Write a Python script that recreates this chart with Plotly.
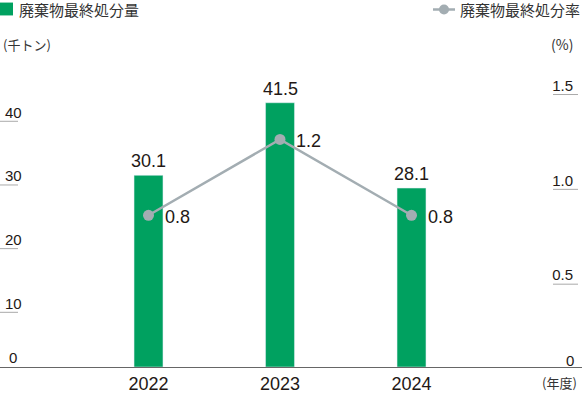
import plotly.graph_objects as go

years = [2022, 2023, 2024]
disposal = [30.1, 41.5, 28.1]       # 千トン
rate = [0.8, 1.2, 0.8]              # %
left_ticks = [10, 20, 30, 40]
right_ticks = [0.5, 1.0, 1.5]

W, H = 582, 394
T, B = 60, 24
PH = H - T - B

GREEN = "#00A160"
GREY = "#A3ADB2"
TXT = "#231815"
NUM_FONT = "Liberation Sans Narrow, Arial Narrow, Liberation Sans, sans-serif"
JP_FONT = "Noto Sans CJK JP, sans-serif"


def px(x):
    return x / W


def py(y):
    return (H - B - y) / PH


fig = go.Figure()
fig.add_trace(go.Bar(x=years, y=disposal, marker_color=GREEN, width=0.22,
                     yaxis="y", hoverinfo="skip", showlegend=False))
fig.add_trace(go.Scatter(x=years, y=rate, yaxis="y2", mode="lines+markers",
                         line=dict(color=GREY, width=2.5),
                         marker=dict(color=GREY, size=11),
                         hoverinfo="skip", showlegend=False))

ann = []
for x, v in zip(years, disposal):
    ann.append(dict(x=x, y=v, xref="x", yref="y", text=f"{v:.1f}", showarrow=False,
                    yanchor="bottom", yshift=2,
                    font=dict(family=NUM_FONT, size=18, color=TXT)))
for x, v in zip(years, rate):
    ann.append(dict(x=x, y=v, xref="x", yref="y2", text=f"{v:.1f}", showarrow=False,
                    xanchor="left", xshift=14, yanchor="middle", yshift=-2,
                    font=dict(family=NUM_FONT, size=18, color=TXT)))

# zero labels
ann.append(dict(x=px(19), y=0, xref="paper", yref="y", text="0", showarrow=False,
                xanchor="right", yanchor="bottom", yshift=-1,
                font=dict(family=NUM_FONT, size=15, color=TXT)))
ann.append(dict(x=px(576), y=0, xref="paper", yref="y2", text="0", showarrow=False,
                xanchor="right", yanchor="bottom", yshift=-4,
                font=dict(family=NUM_FONT, size=15, color=TXT)))

# units
ann.append(dict(x=px(1), y=py(44), xref="paper", yref="paper", text="(千トン)",
                showarrow=False, xanchor="left", yanchor="middle",
                font=dict(family=JP_FONT, size=13, color="#333")))
ann.append(dict(x=px(575), y=py(44), xref="paper", yref="paper", text="(%)",
                showarrow=False, xanchor="right", yanchor="middle",
                font=dict(family=JP_FONT, size=14, color="#333")))
ann.append(dict(x=px(579), y=py(386), xref="paper", yref="paper", text="(年度)",
                showarrow=False, xanchor="right", yanchor="middle",
                font=dict(family=JP_FONT, size=13, color="#333")))

# legends
ann.append(dict(x=px(17), y=py(9), xref="paper", yref="paper", text="廃棄物最終処分量",
                showarrow=False, xanchor="left", yanchor="middle",
                font=dict(family=JP_FONT, size=15, color="#333")))
ann.append(dict(x=px(458), y=py(9), xref="paper", yref="paper", text="廃棄物最終処分率",
                showarrow=False, xanchor="left", yanchor="middle",
                font=dict(family=JP_FONT, size=15, color="#333")))

shapes = [
    dict(type="rect", xref="paper", yref="paper", x0=px(0), x1=px(13), y0=py(2), y1=py(15),
         fillcolor=GREEN, line_width=0),
    dict(type="line", xref="paper", yref="paper", x0=px(433), x1=px(455), y0=py(9), y1=py(9),
         line=dict(color=GREY, width=2.5)),
    dict(type="circle", xref="paper", yref="paper", x0=px(439), x1=px(449), y0=py(4), y1=py(14),
         fillcolor=GREY, line_width=0),
]
for v in left_ticks:
    shapes.append(dict(type="line", xref="paper", yref="y", ysizemode="pixel", yanchor=v,
                       x0=0, x1=px(18), y0=-9, y1=-9, line=dict(color="#AAAAAA", width=1)))
for v in right_ticks:
    shapes.append(dict(type="line", xref="paper", yref="y2", ysizemode="pixel", yanchor=v,
                       x0=px(553), x1=px(578), y0=-12, y1=-12, line=dict(color="#AAAAAA", width=1)))

c0 = 148.5
step = 131.5
x0 = years[0]
fig.update_layout(
    width=W, height=H, margin=dict(l=0, r=0, t=T, b=B),
    paper_bgcolor="white", plot_bgcolor="white",
    showlegend=False,
    xaxis=dict(range=[x0 - c0 / step, x0 + (W - c0) / step], tickvals=years,
               showgrid=False, zeroline=False, showline=True, linecolor="#666666", linewidth=1,
               ticks="", tickfont=dict(family=NUM_FONT, size=18, color=TXT), fixedrange=True),
    yaxis=dict(range=[0, PH / 6.43], tickvals=left_ticks, showgrid=False, zeroline=False,
               showline=False, ticks="", ticklabelposition="inside", ticklabelstandoff=2,
               tickfont=dict(family=NUM_FONT, size=15, color=TXT)),
    yaxis2=dict(range=[0, PH / 191.5], tickvals=right_ticks, tickformat=".1f",
                overlaying="y", side="right", showgrid=False, zeroline=False, showline=False,
                ticks="", ticklabelposition="inside", ticklabelstandoff=6, ticklabelshift=3,
                tickfont=dict(family=NUM_FONT, size=15, color=TXT)),
    annotations=ann, shapes=shapes,
)
fig.write_html("out.html")
